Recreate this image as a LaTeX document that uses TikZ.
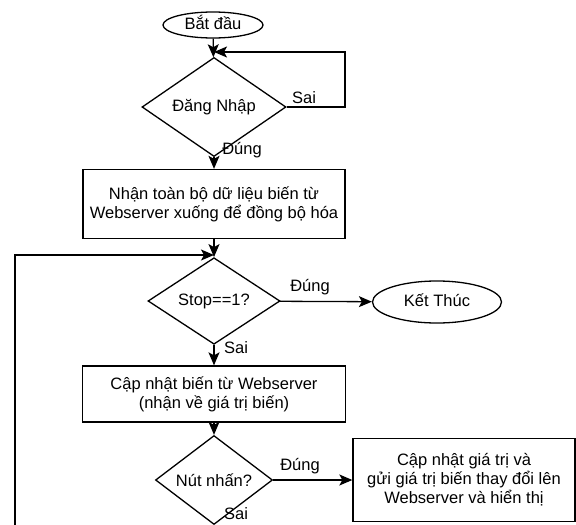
\documentclass[tikz,border=0pt]{standalone}
\usepackage{fontspec}
\setmainfont{Liberation Sans}
\usepackage{tikz}
\usetikzlibrary{arrows.meta, shapes.geometric}

\begin{document}
\begin{tikzpicture}[x=1pt, y=1pt, line width=1.3pt, font=\fontsize{16.5}{19}\selectfont,
  arr/.style={-{Stealth[length=13pt,width=11pt,inset=3pt]}},
  term/.style={draw, ellipse, inner sep=0pt, text height=11pt, text depth=3pt},
  cond/.style={draw, diamond, inner sep=0pt},
  proc/.style={draw, rectangle, align=center, inner sep=0pt}]
\useasboundingbox (0, 0) rectangle (576, -525);
\node[term, minimum width=100pt, minimum height=26pt] (start) at (213, -25) {Bắt đầu};
\node[cond, minimum width=144pt, minimum height=54pt] (login) at (214, -107) {Đăng Nhập};
\node[proc, minimum width=262pt, minimum height=69pt] (sync) at (214, -204) {Nhận toàn bộ dữ liệu biến từ\\Webserver xuống để đồng bộ hóa};
\node[cond, minimum width=132pt, minimum height=55pt] (stop) at (214, -301) {Stop==1?};
\node[term, minimum width=129pt, minimum height=42pt] (end) at (437, -302) {Kết Thúc};
\node[proc, minimum width=263pt, minimum height=56pt] (update) at (214, -394) {Cập nhật biến từ Webserver\\(nhận về giá trị biến)};
\node[cond, minimum width=117pt, minimum height=54pt] (btn) at (214, -480) {Nút nhấn?};
\node[proc, minimum width=222pt, minimum height=83pt] (send) at (464, -480) {Cập nhật giá trị và\\gửi giá trị biến thay đổi lên\\Webserver và hiển thị};

\coordinate (loopR) at (345, -52);
\coordinate (loopIn) at (214, -52);
\coordinate (backIn) at (214, -255);
\coordinate (backL) at (15, -525);
\coordinate (down) at (214, -525);

\draw[arr] (start) -- (login);
\draw[arr] (login.east) -| (loopR) -- (loopIn);
\draw[arr] (login) -- (sync);
\draw[arr] (sync) -- (stop);
\draw[arr] (backL) |- (backIn);
\draw[arr] (stop) -- (end);
\draw[arr] (stop) -- (update);
\draw[arr] (update) -- (btn);
\draw[arr] (btn) -- (send);
\draw (btn.south) -- (down);

\node[] (sai1) at (304, -98) {Sai};
\node[] (dung1) at (242, -150) {Đúng};
\node[] (dung2) at (310, -287) {Đúng};
\node[] (sai2) at (236, -348) {Sai};
\node[] (dung3) at (300, -466) {Đúng};
\node[] (sai3) at (236, -514) {Sai};
\end{tikzpicture}
\end{document}
